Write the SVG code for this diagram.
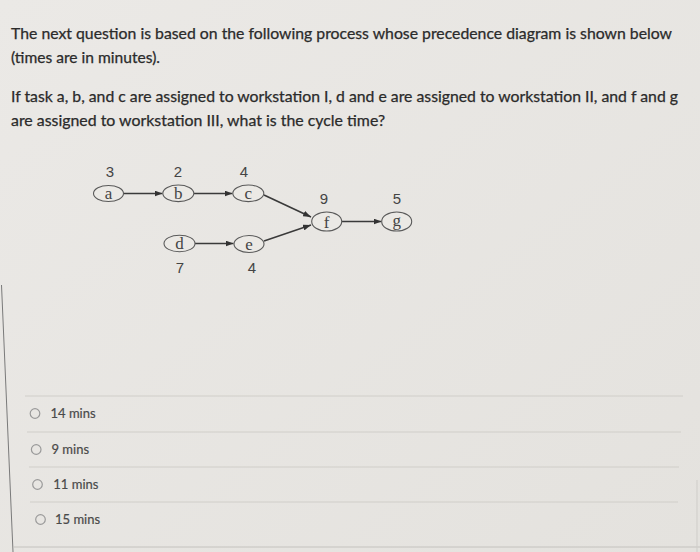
<svg xmlns="http://www.w3.org/2000/svg" width="700" height="552" viewBox="0 0 700 552">
<defs>
<linearGradient id="bg" x1="0" y1="0" x2="1" y2="1">
<stop offset="0" stop-color="#ebe9e6"/>
<stop offset="1" stop-color="#e4e2de"/>
</linearGradient>
<marker id="arr" markerWidth="8" markerHeight="6" refX="8" refY="3" orient="auto" markerUnits="userSpaceOnUse">
<path d="M0,0 L8,3 L0,6 z" fill="#333"/>
</marker>
<style>
.q{font-family:Lato,"Open Sans","Liberation Sans",sans-serif;font-size:15px;fill:#2b2b2b;stroke:#2b2b2b;stroke-width:0.25}
.opt{font-family:Lato,"Open Sans","Liberation Sans",sans-serif;font-size:13px;fill:#4a4a4a;stroke:#4a4a4a;stroke-width:0.2}
.radio{fill:none;stroke:#9a9a9a;stroke-width:1.2}
.sep{stroke:#d0cec9;stroke-width:1}
.node ellipse{fill:#ebe9e5;stroke:#5a5a5a;stroke-width:1.1}
.lbl{font-family:"Liberation Serif",serif;font-size:17px;fill:#444;text-anchor:middle}
.num{font-family:"Liberation Sans",Arial,sans-serif;font-size:15px;fill:#444;text-anchor:middle}
.conn line{stroke:#3a3a3a;stroke-width:1.6;marker-end:url(#arr)}
</style>
</defs>
<rect width="700" height="552" fill="url(#bg)"/>

<g id="question">
<text class="q" x="11" y="39" textLength="661" lengthAdjust="spacingAndGlyphs">The next question is based on the following process whose precedence diagram is shown below</text>
<text class="q" x="11" y="63" textLength="149" lengthAdjust="spacingAndGlyphs">(times are in minutes).</text>
<text class="q" x="11" y="102" textLength="667" lengthAdjust="spacingAndGlyphs">If task a, b, and c are assigned to workstation I, d and e are assigned to workstation II, and f and g</text>
<text class="q" x="11" y="126" textLength="374" lengthAdjust="spacingAndGlyphs">are assigned to workstation III, what is the cycle time?</text>
</g>

<g id="connectors" class="conn">
<line x1="123.5" y1="193.5" x2="162.5" y2="193.5"/>
<line x1="194" y1="193.5" x2="232.5" y2="193.5"/>
<line x1="264" y1="195" x2="311" y2="217"/>
<line x1="195" y1="243.5" x2="233.5" y2="243.5"/>
<line x1="264" y1="241" x2="311" y2="225"/>
<line x1="342" y1="221.5" x2="381.5" y2="221.5"/>
</g>

<g id="node-a" class="node">
<ellipse cx="108.5" cy="193.5" rx="15" ry="8"/>
<text class="lbl" x="108.5" y="199">a</text>
<text class="num" x="110" y="177">3</text>
</g>
<g id="node-b" class="node">
<ellipse cx="178.3" cy="193.3" rx="15.5" ry="8.3"/>
<text class="lbl" x="178.3" y="199">b</text>
<text class="num" x="178" y="177">2</text>
</g>
<g id="node-c" class="node">
<ellipse cx="248.3" cy="193.3" rx="15.5" ry="8.3"/>
<text class="lbl" x="248.3" y="199">c</text>
<text class="num" x="244" y="177">4</text>
</g>
<g id="node-d" class="node">
<ellipse cx="179.5" cy="243.5" rx="15.5" ry="8.3"/>
<text class="lbl" x="179.5" y="249">d</text>
<text class="num" x="180" y="273">7</text>
</g>
<g id="node-e" class="node">
<ellipse cx="249" cy="244" rx="15" ry="8.5"/>
<text class="lbl" x="249" y="249.5">e</text>
<text class="num" x="252" y="273">4</text>
</g>
<g id="node-f" class="node">
<ellipse cx="326.7" cy="221.5" rx="15" ry="9.5"/>
<text class="lbl" x="326.7" y="227.5">f</text>
<text class="num" x="324" y="204">9</text>
</g>
<g id="node-g" class="node">
<ellipse cx="396.7" cy="221.5" rx="15" ry="9.5"/>
<text class="lbl" x="396.7" y="226">g</text>
<text class="num" x="397" y="204">5</text>
</g>

<g id="options">
<line class="sep" x1="25" y1="396" x2="683" y2="396"/>
<circle class="radio" cx="35" cy="413.5" r="4.8"/>
<text class="opt" x="50.5" y="418">14 mins</text>
<line class="sep" x1="27" y1="432" x2="681" y2="432"/>
<circle class="radio" cx="36.2" cy="449.5" r="4.8"/>
<text class="opt" x="51.5" y="454">9 mins</text>
<line class="sep" x1="29" y1="467" x2="679" y2="467"/>
<circle class="radio" cx="37.5" cy="484.5" r="4.8"/>
<text class="opt" x="53.3" y="489">11 mins</text>
<line class="sep" x1="30" y1="502" x2="678" y2="502"/>
<circle class="radio" cx="40.5" cy="519.5" r="4.8"/>
<text class="opt" x="55" y="524">15 mins</text>
</g>

<g id="frame">
<line x1="1.5" y1="285" x2="13" y2="552" stroke="#7a7a7a" stroke-width="1"/>
<line x1="13" y1="547" x2="700" y2="547" stroke="#c4c2be" stroke-width="1"/>
<line x1="697" y1="480" x2="697" y2="552" stroke="#cfcdc9" stroke-width="1"/>
</g>
</svg>
